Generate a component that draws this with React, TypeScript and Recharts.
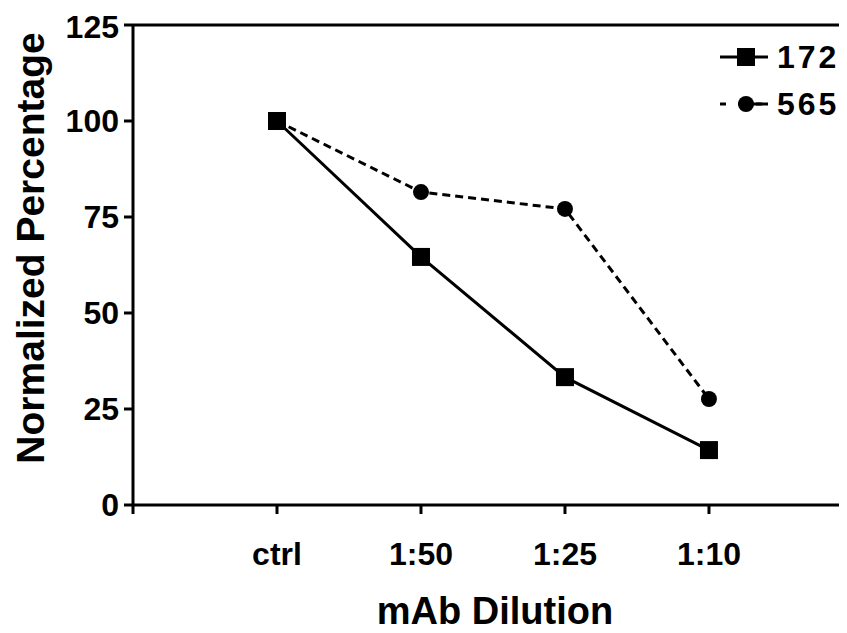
import React from 'react';
import { LineChart, Line, XAxis, YAxis, ReferenceLine, Legend } from 'recharts';

const categories = ['ctrl', '1:50', '1:25', '1:10'];
const series172 = [100, 64.6, 33.3, 14.3];
const series565 = [100, 81.5, 77.1, 27.6];
const yTicks = [0, 25, 50, 75, 100, 125];
const seriesNames = ['172', '565'];

const data = categories.map((c, i) => ({
  x: i + 1,
  label: c,
  s172: series172[i],
  s565: series565[i],
}));

const FONT = '"Liberation Sans", Arial, Helvetica, sans-serif';

const SquareDot = (props: any) => {
  const { cx, cy, index } = props;
  if (cx == null || cy == null) return <g key={'sq' + index} />;
  return <rect key={'sq' + index} x={cx - 9} y={cy - 9} width={18} height={18} fill="#000" />;
};

const LegendContent = () => (
  <div style={{ fontFamily: FONT, fontWeight: 'bold', fontSize: 32, color: '#000', letterSpacing: 3 }}>
    <div style={{ display: 'flex', alignItems: 'center', height: 47 }}>
      <svg width={52} height={24} style={{ display: 'block' }}>
        <line x1={2} y1={12} x2={50} y2={12} stroke="#000" strokeWidth={3} />
        <rect x={19} y={3} width={18} height={18} fill="#000" />
      </svg>
      <span style={{ marginLeft: 7, lineHeight: '32px' }}>{seriesNames[0]}</span>
    </div>
    <div style={{ display: 'flex', alignItems: 'center', height: 47 }}>
      <svg width={52} height={24} style={{ display: 'block' }}>
        <line x1={2} y1={12} x2={50} y2={12} stroke="#000" strokeWidth={3} strokeDasharray="6 12" />
        <line x1={34} y1={12} x2={50} y2={12} stroke="#000" strokeWidth={3} />
        <circle cx={28} cy={12} r={8} fill="#000" />
      </svg>
      <span style={{ marginLeft: 7, lineHeight: '32px' }}>{seriesNames[1]}</span>
    </div>
  </div>
);

export default function App() {
  return (
    <div style={{ width: 839, height: 625, overflow: 'hidden', position: 'relative' }}>
      <LineChart
        width={850}
        height={625}
        data={data}
        margin={{ top: 17, right: 0, bottom: 0, left: 0 }}
      >
        <XAxis
          type="number"
          dataKey="x"
          domain={[0, 5.035]}
          ticks={[0, 1, 2, 3, 4]}
          allowDataOverflow
          tickFormatter={(v: number) => (v === 0 ? '' : categories[v - 1])}
          height={128}
          tickSize={9}
          tickMargin={28}
          axisLine={{ stroke: '#000', strokeWidth: 3 }}
          tickLine={{ stroke: '#000', strokeWidth: 3 }}
          tick={{ fill: '#000', fontSize: 32, fontWeight: 'bold', fontFamily: FONT }}
          label={{
            content: () => (
              <text
                x={487}
                y={616}
                textAnchor="middle"
                fill="#000"
                fontSize={38}
                fontWeight="bold"
                fontFamily={FONT}
              >
                mAb Dilution
              </text>
            ),
          }}
        />
        <YAxis
          type="number"
          domain={[0, 125]}
          ticks={yTicks}
          width={125}
          tickSize={9}
          tickMargin={5}
          axisLine={{ stroke: '#000', strokeWidth: 3 }}
          tickLine={{ stroke: '#000', strokeWidth: 3 }}
          tick={{ fill: '#000', fontSize: 32, fontWeight: 'bold', fontFamily: FONT }}
          label={{
            content: () => (
              <text
                x={22}
                y={240}
                textAnchor="middle"
                dominantBaseline="central"
                transform="rotate(-90, 22, 240)"
                fill="#000"
                fontSize={39}
                fontWeight="bold"
                fontFamily={FONT}
              >
                Normalized Percentage
              </text>
            ),
          }}
        />
        <ReferenceLine y={125} stroke="#000" strokeWidth={3} />
        <Legend
          layout="vertical"
          align="center"
          verticalAlign="middle"
          content={<LegendContent />}
          wrapperStyle={{ left: 710, top: 25, width: 135, right: 'auto', bottom: 'auto' }}
        />
        <Line
          dataKey="s172"
          name={seriesNames[0]}
          stroke="#000"
          strokeWidth={3}
          dot={SquareDot}
          isAnimationActive={false}
        />
        <Line
          dataKey="s565"
          name={seriesNames[1]}
          stroke="#000"
          strokeWidth={3}
          strokeDasharray="8 5"
          dot={{ r: 8, fill: '#000', stroke: '#000', strokeWidth: 0 }}
          isAnimationActive={false}
        />
      </LineChart>
    </div>
  );
}
